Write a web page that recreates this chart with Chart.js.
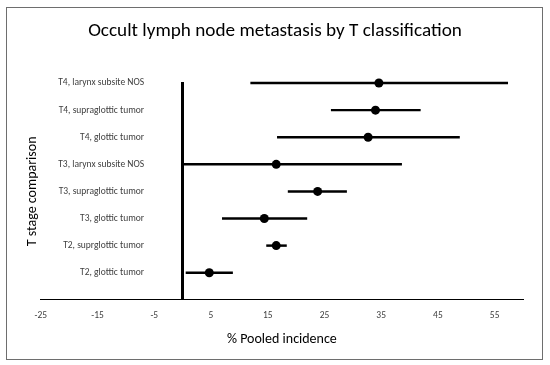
<!DOCTYPE html>
<html lang="en">
  <head>
    <meta charset="UTF-8" />
    <title>forest</title>
    <script src="https://cdn.jsdelivr.net/npm/chart.js@4.4.0/dist/chart.umd.min.js"></script>
    <style>
      body { margin: 0; background: #fff; }
      .wrap { position: relative; width: 550px; height: 365px; }
      .frame { position: absolute; left: 6px; top: 7px; width: 535px; height: 351px; border: 1.5px solid #6e6e6e; pointer-events: none; }
    </style>
  </head>
  <body>
    <div class="wrap">
      <canvas id="chart" width="550" height="365"></canvas>
      <div class="frame"></div>
    </div>

    <script>
      //data (rows listed bottom to top)
      const rows = ['T2, glottic tumor', 'T2, suprglottic tumor', 'T3, glottic tumor', 'T3, supraglottic tumor',
                    'T3, larynx subsite NOS', 'T4, glottic tumor', 'T4, supraglottic tumor', 'T4, larynx subsite NOS'];
      const estimate = [4.7, 16.5, 14.4, 23.8, 16.5, 32.7, 34.0, 34.6];
      const lower = [0.6, 14.8, 7.0, 18.6, 0, 16.7, 26.2, 12.0];
      const upper = [8.8, 18.3, 21.9, 28.9, 38.6, 48.8, 41.9, 57.3];
      const xTicks = [-25, -15, -5, 5, 15, 25, 35, 45, 55];

      const font = 'Carlito, Calibri, Lato, sans-serif';
      const labelEdge = -6.8; // where the row labels end, in x units

      const rowTicks = (scale) => { scale.ticks = rows.map((r, i) => ({ value: i + 1 })); };

      //config
      const config = {
        data: {
          datasets: [
            {
              type: 'bar',
              indexAxis: 'y',
              data: rows.map((r, i) => ({ x: [lower[i], upper[i]], y: i + 1 })),
              backgroundColor: '#000',
              borderWidth: 0,
              barThickness: 1.8,
              clip: false
            },
            {
              type: 'scatter',
              data: rows.map((r, i) => ({ x: estimate[i], y: i + 1 })),
              backgroundColor: '#000',
              borderWidth: 0,
              pointRadius: 4.5,
              clip: false
            }
          ]
        },
        options: {
          responsive: false,
          animation: false,
          layout: { padding: { left: 27, right: 27, top: 0, bottom: 17 } },
          plugins: {
            legend: { display: false },
            tooltip: { enabled: false },
            title: {
              display: true,
              text: 'Occult lymph node metastasis by T classification',
              color: '#000',
              font: { family: font, size: 19.2, weight: 'normal' },
              padding: { top: 20, bottom: 40 }
            }
          },
          scales: {
            x: {
              type: 'linear',
              position: 'bottom',
              min: -25,
              max: 60,
              afterBuildTicks: (scale) => { scale.ticks = xTicks.map((v) => ({ value: v })); },
              grid: { display: false, drawTicks: false },
              border: { display: true, color: '#000', width: 1 },
              ticks: { color: '#404040', font: { family: font, size: 9.5 }, padding: 10, maxRotation: 0 },
              title: {
                display: true,
                text: '% Pooled incidence',
                color: '#000',
                font: { family: font, size: 14 },
                padding: { top: 0, bottom: 0 }
              }
            },
            y: {
              type: 'linear',
              position: { x: 0 },
              min: 0,
              max: 8,
              offset: false,
              grid: { display: false, drawTicks: false },
              border: { display: true, color: '#000', width: 3 },
              ticks: { display: false }
            },
            yLabels: {
              type: 'linear',
              position: { x: labelEdge },
              min: 0,
              max: 8,
              afterBuildTicks: rowTicks,
              grid: { display: false, drawTicks: false },
              border: { display: false },
              ticks: {
                color: '#404040',
                font: { family: font, size: 9.5 },
                callback: (v) => rows[v - 1] || ''
              }
            },
            yTitle: {
              type: 'linear',
              position: 'left',
              grid: { display: false, drawTicks: false },
              border: { display: false },
              ticks: { display: false },
              title: {
                display: true,
                text: 'T stage comparison',
                color: '#000',
                font: { family: font, size: 14 },
                padding: { top: -3, bottom: 0 }
              }
            }
          }
        }
      };

      //init
      const ctx = document.getElementById('chart');
      const chart = new Chart(ctx, config);
    </script>
  </body>
</html>
